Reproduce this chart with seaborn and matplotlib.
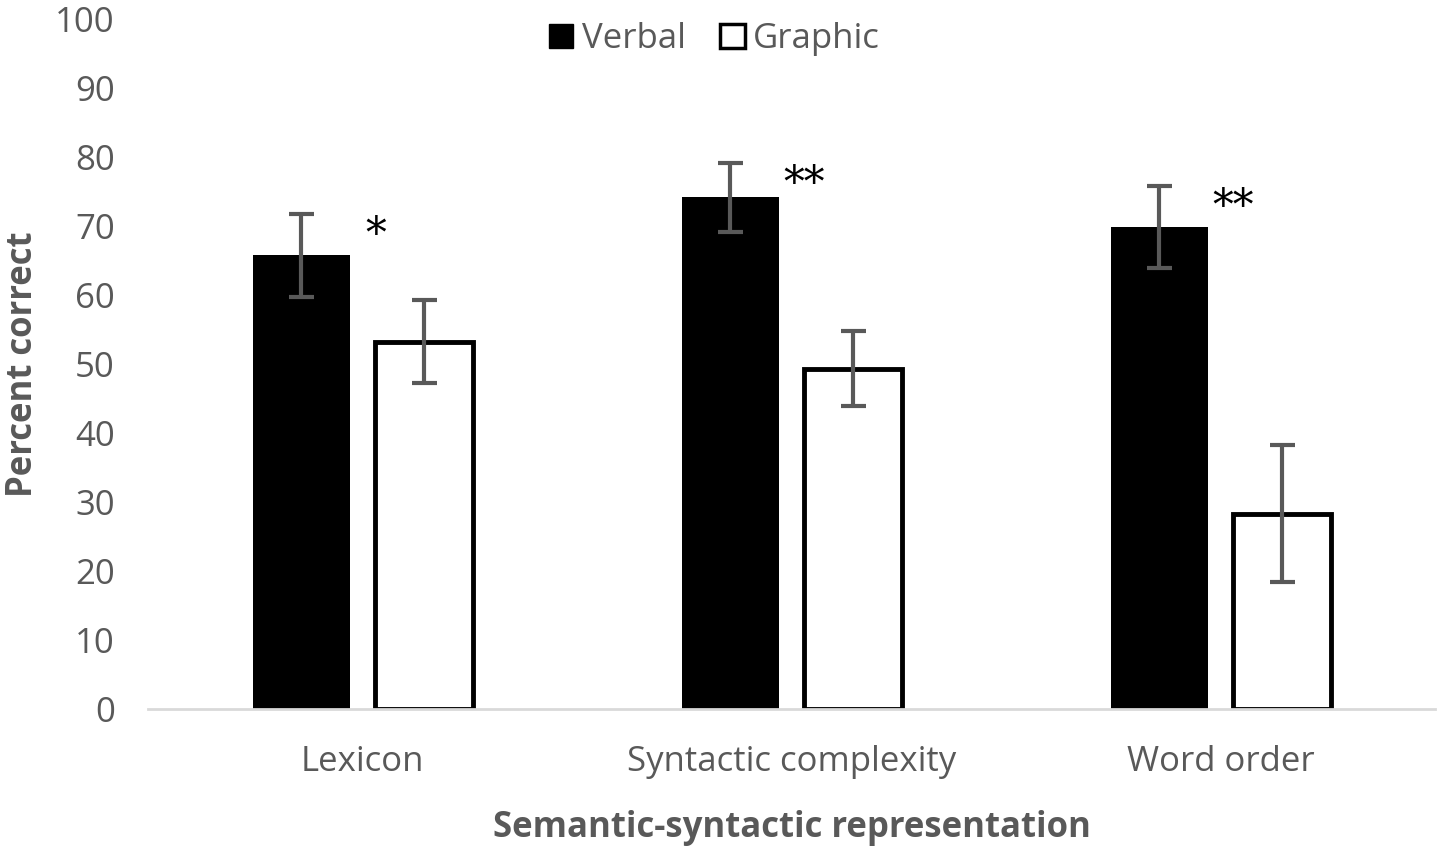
import pandas as pd
import seaborn as sns
import matplotlib.pyplot as plt
from matplotlib.patches import Patch

categories = ["Lexicon", "Syntactic complexity", "Word order"]
verbal = [65.7, 74.1, 69.8]
verbal_err = [6.0, 5.0, 5.9]
graphic = [53.2, 49.3, 28.3]
graphic_err = [6.0, 5.4, 9.9]
stars = ["*", "**", "**"]

df = pd.DataFrame({
    "category": categories * 2,
    "value": verbal + graphic,
    "err": verbal_err + graphic_err,
    "group": ["Verbal"] * 3 + ["Graphic"] * 3,
})

sns.set_theme(style="white")
plt.rcParams['font.family'] = ['Open Sans', 'DejaVu Sans']
grey = "#595959"

fig = plt.figure(figsize=(14.38, 8.5), dpi=100)
ax = fig.add_axes([0.103, 0.166, 0.895, 0.812])

sns.barplot(data=df, x="category", y="value", hue="group", order=categories,
            hue_order=["Verbal", "Graphic"], palette={"Verbal": "black", "Graphic": "white"},
            width=0.57, gap=0.2, errorbar=None, ax=ax, legend=False)

# style bars and add error bars from bar centres
for i, p in enumerate(ax.patches[:6]):
    p.set_edgecolor("black")
    p.set_linewidth(3.5 if i >= 3 else 0)
    row = df.iloc[i]
    cx = p.get_x() + p.get_width() / 2
    ax.errorbar(cx, row["value"], yerr=row["err"], fmt="none", ecolor=grey,
                elinewidth=3, capsize=9, capthick=3, zorder=5)

for i, s in enumerate(stars):
    ax.text(i + 0.03, verbal[i] + verbal_err[i] - 3.0, s, fontsize=30,
            family="DejaVu Serif", ha="center", va="center", color="black")

ax.set_ylim(0, 100)
ax.set_xlim(-0.5, 2.5)
ax.set_yticks(range(0, 101, 10))
ax.tick_params(axis="both", colors=grey, labelsize=25, length=0)
ax.tick_params(axis="y", pad=24)
ax.tick_params(axis="x", pad=26)
for sp in ["top", "right", "left"]:
    ax.spines[sp].set_visible(False)
ax.spines["bottom"].set_color("#d9d9d9")
ax.spines["bottom"].set_linewidth(2)

ax.set_xlabel("Semantic-syntactic representation", fontsize=25, fontweight="bold",
              color=grey, labelpad=22)
ax.set_ylabel("Percent correct", fontsize=25, fontweight="bold", color=grey)
ax.yaxis.set_label_coords(-0.083, 0.5)

handles = [Patch(facecolor="black", edgecolor="black", label="Verbal"),
           Patch(facecolor="white", edgecolor="black", linewidth=2.5, label="Graphic")]
leg = ax.legend(handles=handles, loc="upper center", bbox_to_anchor=(0.44, 1.04),
                ncol=2, frameon=False, fontsize=25, handlelength=0.7, handleheight=0.7,
                handletextpad=0.25, columnspacing=1.0)
for t in leg.get_texts():
    t.set_color(grey)

fig.savefig("out.png", dpi=100)
